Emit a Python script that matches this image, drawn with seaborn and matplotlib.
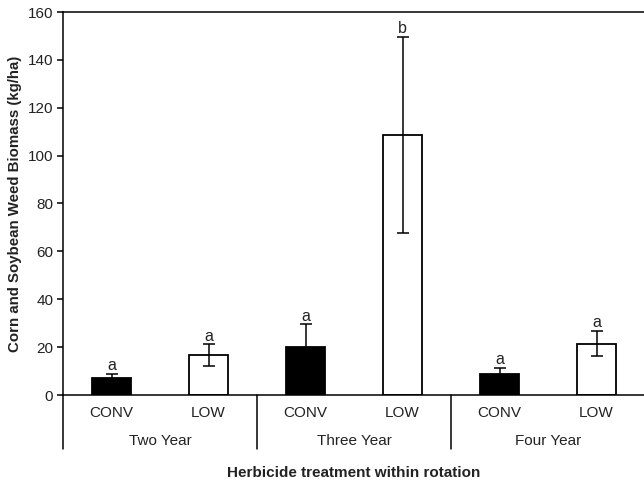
import matplotlib
matplotlib.use("Agg")
import matplotlib.pyplot as plt
import matplotlib.transforms as mtransforms
import seaborn as sns
import pandas as pd

rotations = ["Two Year", "Two Year", "Three Year", "Three Year", "Four Year", "Four Year"]
treatments = ["CONV", "LOW", "CONV", "LOW", "CONV", "LOW"]
biomass = [7.0, 16.6, 20.0, 108.5, 8.8, 21.5]
std_err = [1.8, 4.6, 9.5, 41.0, 2.6, 5.4]
letters = ["a", "a", "a", "b", "a", "a"]
group_names = ["Two Year", "Three Year", "Four Year"]
y_ticks = [0, 20, 40, 60, 80, 100, 120, 140, 160]

sns.set_theme(style="white")
plt.rcParams['font.family'] = ['Liberation Sans', 'DejaVu Sans']

df = pd.DataFrame({
    "bar": [f"{r} {t}" for r, t in zip(rotations, treatments)],
    "treatment": treatments,
    "biomass": biomass,
})

W, H = 644, 486
fig = plt.figure(figsize=(W / 100, H / 100), dpi=100)
ax = fig.add_axes([63 / W, 1 - 395 / H, 582 / W, 383 / H])

sns.barplot(data=df, x="bar", y="biomass", hue="treatment",
            palette={"CONV": "black", "LOW": "white"}, dodge=False,
            width=0.4, edgecolor="black", linewidth=1.3, legend=False,
            errorbar=None, ax=ax, zorder=2)

xs = list(range(len(biomass)))
ax.errorbar(xs, biomass, yerr=std_err, fmt='none', ecolor='black',
            elinewidth=1.1, capsize=4.5, capthick=1.1, zorder=3)

for x, b, e, l in zip(xs, biomass, std_err, letters):
    ax.annotate(l, (x, b + e), xytext=(0, 0.5), textcoords='offset points',
                ha='center', va='bottom', fontsize=11.5, color='#222222')

ax.set_xlim(-0.5, 5.5)
ax.set_ylim(0, 160)
ax.set_yticks(y_ticks)
ax.set_yticklabels([str(t) for t in y_ticks], fontsize=11, color='#222222')
ax.set_xticks(xs)
ax.set_xticklabels(treatments, fontsize=11, color='#222222')
ax.tick_params(axis='x', length=0, pad=8)
ax.tick_params(axis='y', length=4, width=1.1, direction='out', pad=3, color='black', left=True)

for side in ["left", "bottom", "top"]:
    ax.spines[side].set_visible(True)
    ax.spines[side].set_color("black")
    ax.spines[side].set_linewidth(1.1)
ax.spines["right"].set_visible(False)

trans = mtransforms.blended_transform_factory(ax.transData, ax.transAxes)
sep_bottom = -(449 - 395) / 383
for sx in [-0.5, 1.5, 3.5, 5.5]:
    ax.plot([sx, sx], [0, sep_bottom], transform=trans, color='black',
            lw=1.1, clip_on=False)

group_y = -(441 - 395) / 383
for i, name in enumerate(group_names):
    ax.text(2 * i + 0.5, group_y, name, transform=trans, ha='center',
            va='center', fontsize=11, color='#222222')

ax.set_xlabel("Herbicide treatment within rotation", fontsize=11,
              fontweight='bold', color='#222222')
ax.xaxis.set_label_coords(0.5, -(473 - 395) / 383)
ax.xaxis.label.set_va('center')

ax.set_ylabel("Corn and Soybean Weed Biomass (kg/ha)", fontsize=10.8,
              fontweight='bold', color='#222222')
ax.yaxis.set_label_coords((15 - 63) / 582, 0.5)
ax.yaxis.label.set_va('center')

fig.savefig("out.png", dpi=100, facecolor='white')
